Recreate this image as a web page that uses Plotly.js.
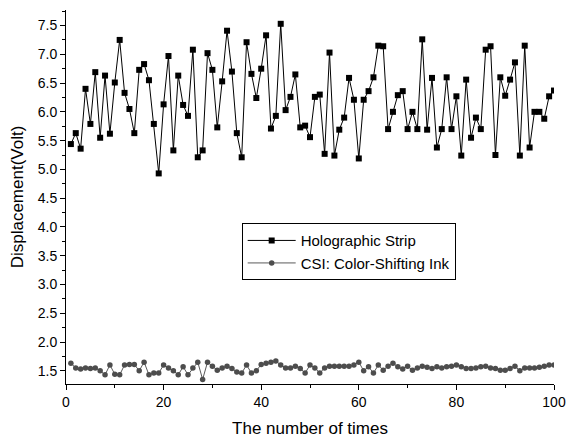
<!DOCTYPE html>
<html>
<head>
<meta charset="utf-8">
<script src="https://cdn.plot.ly/plotly-3.0.1.min.js"></script>
<style>html,body{margin:0;padding:0;background:#fff}#chart{width:566px;height:442px}</style>
</head>
<body>
<div id="chart"></div>
<script>
const holographicStrip = [
  5.44, 5.63, 5.36, 6.40, 5.79, 6.69, 5.55, 6.63, 5.62, 6.51,
  7.25, 6.33, 6.05, 5.63, 6.73, 6.83, 6.55, 5.79, 4.93, 6.13,
  6.97, 5.33, 6.63, 6.12, 5.93, 7.08, 5.21, 5.33, 7.02, 6.73,
  5.73, 6.53, 7.41, 6.70, 5.63, 5.21, 7.21, 6.66, 6.24, 6.75,
  7.33, 5.71, 5.93, 7.53, 6.03, 6.26, 6.65, 5.73, 5.76, 5.56,
  6.26, 6.30, 5.27, 7.03, 5.24, 5.69, 5.90, 6.59, 6.21, 5.19,
  6.21, 6.36, 6.60, 7.15, 7.14, 5.70, 6.00, 6.29, 6.36, 5.70,
  6.00, 5.70, 7.26, 5.69, 6.59, 5.38, 5.70, 6.60, 5.70, 6.27,
  5.24, 6.56, 5.55, 5.90, 5.70, 7.08, 7.14, 5.25, 6.60, 6.28,
  6.56, 6.86, 5.24, 7.15, 5.38, 6.00, 6.00, 5.88, 6.27, 6.37
];
const colorShiftingInk = [
  1.63, 1.55, 1.53, 1.55, 1.54, 1.55, 1.50, 1.43, 1.60, 1.44,
  1.43, 1.60, 1.61, 1.61, 1.50, 1.65, 1.43, 1.46, 1.46, 1.60,
  1.55, 1.50, 1.43, 1.57, 1.43, 1.55, 1.65, 1.35, 1.65, 1.58,
  1.51, 1.55, 1.58, 1.54, 1.48, 1.46, 1.60, 1.46, 1.50, 1.61,
  1.63, 1.65, 1.67, 1.60, 1.55, 1.55, 1.58, 1.54, 1.46, 1.60,
  1.55, 1.46, 1.55, 1.58, 1.58, 1.58, 1.58, 1.58, 1.60, 1.65,
  1.50, 1.57, 1.46, 1.60, 1.51, 1.58, 1.63, 1.57, 1.53, 1.58,
  1.51, 1.55, 1.58, 1.56, 1.54, 1.57, 1.55, 1.57, 1.58, 1.60,
  1.57, 1.54, 1.54, 1.55, 1.57, 1.58, 1.55, 1.54, 1.51, 1.51,
  1.54, 1.58, 1.50, 1.55, 1.55, 1.55, 1.56, 1.58, 1.60, 1.60
];
const times = holographicStrip.map((_, i) => i + 1);
const seriesNames = ["Holographic Strip", "CSI: Color-Shifting Ink"];
const xTitle = "The number of times";
const yTitle = "Displacement(Volt)";

const font = "Liberation Sans, Arial, sans-serif";

const traces = [
  {
    x: times, y: holographicStrip, name: seriesNames[0],
    type: "scatter", mode: "lines+markers",
    line: {color: "#000000", width: 1},
    marker: {symbol: "square", size: 6, color: "#000000"}
  },
  {
    x: times, y: colorShiftingInk, name: seriesNames[1],
    type: "scatter", mode: "lines+markers",
    line: {color: "#5a5a5a", width: 1},
    marker: {symbol: "circle", size: 5.5, color: "#4d4d4d"}
  }
];

const layout = {
  width: 566, height: 442,
  margin: {l: 66, r: 12, t: 10, b: 58},
  paper_bgcolor: "#ffffff", plot_bgcolor: "#ffffff",
  font: {family: font, size: 14, color: "#000"},
  showlegend: true,
  legend: {
    x: 0.36, y: 0.43, xanchor: "left", yanchor: "top",
    bgcolor: "#ffffff", bordercolor: "#000000", borderwidth: 1,
    font: {family: font, size: 15, color: "#000"},
    itemwidth: 48, tracegroupgap: 0, entrywidth: 183
  },
  xaxis: {
    range: [0, 100], tick0: 0, dtick: 20,
    showgrid: false, zeroline: false, showline: true, linecolor: "#000", linewidth: 1,
    ticks: "outside", ticklen: 5, tickcolor: "#000", tickwidth: 1,
    minor: {dtick: 10, ticks: "outside", ticklen: 3, tickcolor: "#000", showgrid: false},
    tickfont: {family: font, size: 14}, ticklabeloverflow: "allow",
    title: {text: xTitle, font: {family: font, size: 17}, standoff: 13}
  },
  yaxis: {
    range: [1.27, 7.77], tick0: 1.5, dtick: 0.5, tickformat: ".1f",
    showgrid: false, zeroline: false, showline: true, linecolor: "#000", linewidth: 1,
    ticks: "outside", ticklen: 5, tickcolor: "#000", tickwidth: 1,
    minor: {dtick: 0.25, ticks: "outside", ticklen: 3, tickcolor: "#000", showgrid: false},
    tickfont: {family: font, size: 14},
    title: {text: yTitle, font: {family: font, size: 17}, standoff: 9}
  }
};

Plotly.newPlot("chart", traces, layout, {staticPlot: true, displayModeBar: false});
</script>
</body>
</html>
